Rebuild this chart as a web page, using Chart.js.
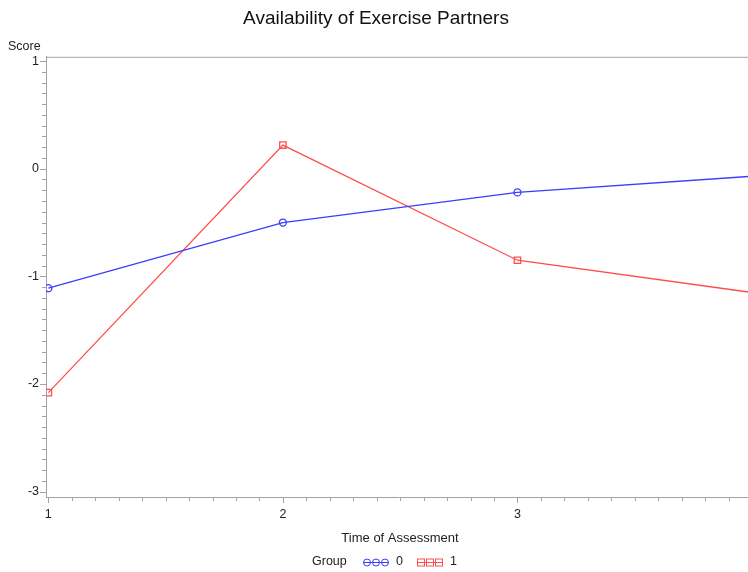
<!DOCTYPE html>
<html>
<head>
<meta charset="utf-8">
<script src="https://cdn.jsdelivr.net/npm/chart.js@4/dist/chart.umd.min.js"></script>
<style>
html, body { margin: 0; padding: 0; background: #fff; overflow: hidden; }
#wrap { width: 748px; height: 572px; overflow: hidden; }
</style>
</head>
<body>
<div id="wrap"><canvas id="grafico" width="760" height="572"></canvas></div>
<script>
// dados
const tempos = [1, 2, 3, 4];
const grupo0 = [-1.11, -0.50, -0.22, -0.07];
const grupo1 = [-2.08, 0.22, -0.85, -1.15];
const rotulosX = [1, 2, 3, 4];
const rotulosY = [-3, -2, -1, 0, 1];

const azul = '#3d3dff';
const vermelho = '#ff4d4d';
const cinza = '#a3a3a3';
const fonte = 'Liberation Sans, Arial, sans-serif';

const inteiro = v => Math.abs(v - Math.round(v)) < 1e-6;

// ticks de 0.1 em 0.1 entre o primeiro e o ultimo rotulo
function ticksMenores(rotulos) {
  const ini = rotulos[0];
  const fim = rotulos[rotulos.length - 1];
  const lista = [];
  for (let i = 0; i <= Math.round((fim - ini) * 10); i++) {
    lista.push({ value: Math.round((ini + i / 10) * 10) / 10 });
  }
  return lista;
}

// desenha ticks, moldura, titulos dos eixos e legenda
const extras = {
  id: 'extras',
  afterDraw(chart) {
    const ctx = chart.ctx;
    const area = chart.chartArea;
    const sx = chart.scales.x;
    const sy = chart.scales.y;
    ctx.save();
    ctx.strokeStyle = cinza;
    ctx.lineWidth = 1;

    // linha de cima
    ctx.beginPath();
    ctx.moveTo(area.left, area.top + 0.5);
    ctx.lineTo(area.right, area.top + 0.5);
    ctx.stroke();

    sx.ticks.forEach(t => {
      const px = Math.round(sx.getPixelForValue(t.value)) + 0.5;
      const len = inteiro(t.value) ? 6 : 4;
      ctx.beginPath();
      ctx.moveTo(px, area.bottom);
      ctx.lineTo(px, area.bottom + len);
      ctx.stroke();
    });
    sy.ticks.forEach(t => {
      const py = Math.round(sy.getPixelForValue(t.value)) + 0.5;
      const len = inteiro(t.value) ? 6 : 4;
      ctx.beginPath();
      ctx.moveTo(area.left, py);
      ctx.lineTo(area.left - len, py);
      ctx.stroke();
    });

    ctx.fillStyle = '#222';
    ctx.textBaseline = 'middle';
    ctx.font = '12.5px ' + fonte;
    ctx.textAlign = 'left';
    ctx.fillText('Score', 8, 47);

    ctx.font = '13px ' + fonte;
    ctx.textAlign = 'center';
    ctx.fillText('Time of Assessment', 400, 538);

    // legenda
    const ly = 562;
    ctx.font = '12.5px ' + fonte;
    ctx.textAlign = 'left';
    ctx.fillText('Group', 312, ly);

    ctx.strokeStyle = azul;
    ctx.beginPath();
    ctx.moveTo(363, ly + 0.5);
    ctx.lineTo(389, ly + 0.5);
    ctx.stroke();
    [367, 376, 385].forEach(cx => {
      ctx.beginPath();
      ctx.arc(cx, ly + 0.5, 3.5, 0, Math.PI * 2);
      ctx.stroke();
    });
    ctx.fillText('0', 396, ly);

    ctx.strokeStyle = vermelho;
    ctx.beginPath();
    ctx.moveTo(417, ly + 0.5);
    ctx.lineTo(443, ly + 0.5);
    ctx.stroke();
    [421, 430, 439].forEach(cx => {
      ctx.strokeRect(cx - 3.5, ly - 3, 7, 7);
    });
    ctx.fillText('1', 450, ly);
    ctx.restore();
  }
};

const ctx = document.getElementById('grafico').getContext('2d');

new Chart(ctx, {
  type: 'line',
  data: {
    datasets: [
      {
        label: '0',
        data: tempos.map((t, i) => ({ x: t, y: grupo0[i] })),
        borderColor: azul,
        borderWidth: 1.3,
        pointStyle: 'circle',
        pointRadius: 3.5,
        pointBorderWidth: 1.3,
        pointBackgroundColor: 'rgba(0,0,0,0)',
        pointBorderColor: azul,
        tension: 0
      },
      {
        label: '1',
        data: tempos.map((t, i) => ({ x: t, y: grupo1[i] })),
        borderColor: vermelho,
        borderWidth: 1.3,
        pointStyle: 'rect',
        pointRadius: 4.5,
        pointBorderWidth: 1.3,
        pointBackgroundColor: 'rgba(0,0,0,0)',
        pointBorderColor: vermelho,
        tension: 0
      }
    ]
  },
  options: {
    responsive: false,
    animation: false,
    layout: { padding: { left: 0, right: 8, top: 0, bottom: 0 } },
    plugins: {
      legend: { display: false },
      tooltip: { enabled: false },
      title: {
        display: true,
        text: 'Availability of Exercise Partners',
        color: '#111',
        font: { family: fonte, size: 19, weight: 'normal' },
        padding: { top: 7, bottom: 27 }
      }
    },
    scales: {
      x: {
        type: 'linear',
        min: 0.99,
        max: 4,
        grid: { display: true, drawOnChartArea: false, drawTicks: false },
        border: { display: true, color: cinza },
        ticks: {
          autoSkip: false,
          maxRotation: 0,
          padding: 10,
          color: '#222',
          font: { family: fonte, size: 12.5 },
          callback: v => (inteiro(v) && rotulosX.includes(Math.round(v))) ? String(Math.round(v)) : ''
        },
        afterBuildTicks(scale) {
          scale.ticks = ticksMenores(rotulosX);
        },
        afterFit(scale) {
          scale.height = 75;
          scale.paddingLeft = 0;
          scale.paddingRight = 0;
        }
      },
      y: {
        min: -3.05,
        max: 1.04,
        grid: { display: true, drawOnChartArea: false, drawTicks: false },
        border: { display: true, color: cinza },
        ticks: {
          autoSkip: false,
          padding: 7,
          color: '#222',
          font: { family: fonte, size: 12.5 },
          callback: v => (inteiro(v) && rotulosY.includes(Math.round(v))) ? String(Math.round(v)) : ''
        },
        afterBuildTicks(scale) {
          scale.ticks = ticksMenores(rotulosY);
        },
        afterFit(scale) {
          scale.width = 46;
          scale.paddingTop = 0;
          scale.paddingBottom = 0;
        }
      }
    }
  },
  plugins: [extras]
});
</script>
</body>
</html>
